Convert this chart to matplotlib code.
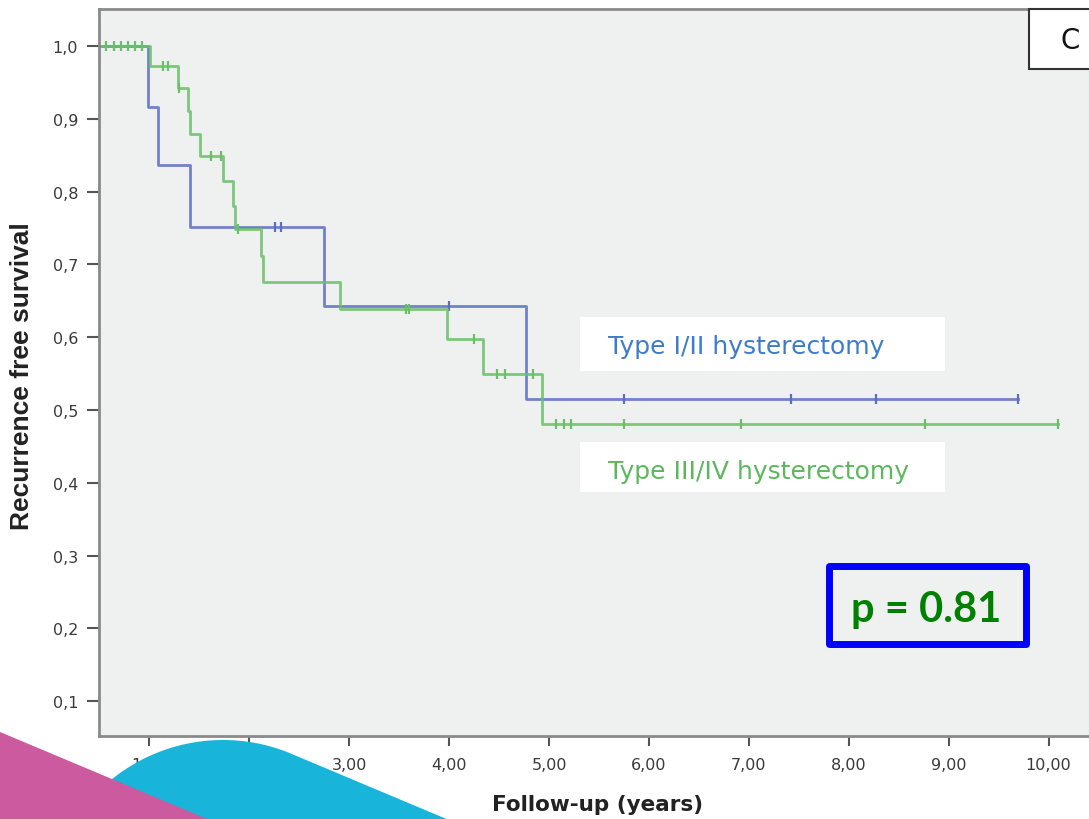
import numpy as np
import matplotlib
matplotlib.use('Agg')
import matplotlib.pyplot as plt
from matplotlib.patches import Rectangle, Polygon

# Kaplan-Meier data (time in years, survival after each event)
blue_event_t = [0.985, 1.09, 1.405, 2.75, 4.77]
blue_event_s = [0.917, 0.836, 0.751, 0.643, 0.515]
blue_cens_t = [2.26, 2.32, 4.00, 5.75, 7.42, 8.27, 9.69]
blue_end = 9.69

green_event_t = [1.005, 1.29, 1.39, 1.41, 1.505, 1.74, 1.84, 1.855,
                 2.12, 2.14, 2.91, 3.975, 4.34, 4.93]
green_event_s = [0.973, 0.943, 0.911, 0.879, 0.849, 0.815, 0.780, 0.749,
                 0.712, 0.676, 0.639, 0.597, 0.549, 0.481]
green_cens_t = [0.56, 0.64, 0.71, 0.78, 0.85, 0.92, 1.14, 1.19, 1.30, 1.62,
                1.72, 1.89, 3.57, 3.60, 4.25, 4.48, 4.56, 4.84, 5.07, 5.15,
                5.22, 5.75, 6.92, 8.76, 10.09]
green_end = 10.09

x_ticks = [1, 2, 3, 4, 5, 6, 7, 8, 9, 10]
y_ticks = [0.1, 0.2, 0.3, 0.4, 0.5, 0.6, 0.7, 0.8, 0.9, 1.0]

blue = '#5b6fc2'
green = '#68c068'


def km_curve(ev_t, ev_s, t_end):
    t = np.r_[0.0, ev_t, t_end]
    s = np.r_[1.0, ev_s, ev_s[-1]]
    return t, s


def cens_y(ev_t, ev_s, cens):
    idx = np.searchsorted(ev_t, cens, side='right')
    return np.r_[1.0, ev_s][idx]


W, H = 1089, 820
fig = plt.figure(figsize=(W / 100, H / 100), dpi=100)
ax = fig.add_axes([99 / W, (H - 737) / H, (1100 - 99) / W, 727 / H])
ax.set_facecolor('#eff0f0')

for ev_t, ev_s, cens, end, col in [
        (blue_event_t, blue_event_s, blue_cens_t, blue_end, blue),
        (green_event_t, green_event_s, green_cens_t, green_end, green)]:
    t, s = km_curve(ev_t, ev_s, end)
    ax.step(t, s, where='post', color=col, lw=2, alpha=0.85)
    ax.plot(cens, cens_y(ev_t, ev_s, cens), ls='none', marker='|',
            ms=7, mew=1.6, color=col)

ax.set_xlim(0.4945, 10.515)
ax.set_ylim(0.052, 1.051)
ax.set_xticks(x_ticks)
ax.set_xticklabels([f"{v:.2f}".replace('.', ',') for v in x_ticks])
ax.set_yticks(y_ticks)
ax.set_yticklabels([f"{v:.1f}".replace('.', ',') for v in y_ticks])
ax.tick_params(axis='both', colors='#555555', labelcolor='#3a3a3a',
               labelsize=11.5, width=1.5)
ax.tick_params(axis='y', length=9, pad=6)
ax.tick_params(axis='x', length=7, pad=8)
for lab in ax.get_xticklabels() + ax.get_yticklabels():
    lab.set_family('DejaVu Sans')
for sp in ax.spines.values():
    sp.set_color('#8a8a8a')
    sp.set_linewidth(2)

# overlay in pixel coordinates for annotations and decoration
deco = fig.add_axes([0, 0, 1, 1], zorder=5)
deco.set_xlim(0, W)
deco.set_ylim(H, 0)
deco.axis('off')
deco.patch.set_alpha(0)

deco.add_patch(Rectangle((580, 318), 365, 54, facecolor='white', edgecolor='none'))
deco.add_patch(Rectangle((580, 443), 365, 50, facecolor='white', edgecolor='none'))
deco.text(608, 354, 'Type I/II hysterectomy', color='#3d7cc9', fontsize=18,
          family='DejaVu Sans', va='baseline', ha='left')
deco.text(608, 479, 'Type III/IV hysterectomy', color='#5cb85c', fontsize=18,
          family='DejaVu Sans', va='baseline', ha='left')

deco.add_patch(Rectangle((828.5, 566.5), 197, 78, facecolor='none',
                         edgecolor='#0000ff', lw=5, joinstyle='round'))
deco.text(926.5, 622, 'p = 0.81', color='#008000', fontsize=30,
          family='Lato', weight='bold', va='baseline', ha='center')

deco.add_patch(Rectangle((1029, 10), 100, 60, facecolor='white',
                         edgecolor='#333333', lw=1.5))
deco.text(1070, 41, 'C', fontsize=20, family='DejaVu Sans',
          va='center', ha='center', color='#111111')

deco.text(22, 376, 'Recurrence free survival', rotation=90, fontsize=19,
          family='Liberation Sans', weight='bold',
          va='center', ha='center', color='#222222')
deco.text(598, 805, 'Follow-up (years)', fontsize=15.5, family='DejaVu Sans',
          weight='bold', va='center', ha='center', color='#222222')

# decorative shapes at the bottom left
cx, cy, r = 223, 918, 177
th = np.linspace(-np.pi, np.deg2rad(-68.8), 80)
arc = np.c_[cx + r * np.cos(th), cy + r * np.sin(th)]
cyan_pts = np.r_[arc, [[500, 842.5], [500, 1000], [0, 1000], [0, 918]]]
deco.add_patch(Polygon(cyan_pts, closed=True, facecolor='#19b4d9', edgecolor='none'))
deco.add_patch(Polygon([[0, 733], [250, 838], [0, 838]], closed=True,
                       facecolor='#cc5a9e', edgecolor='none'))

fig.savefig('out.png', dpi=100)
